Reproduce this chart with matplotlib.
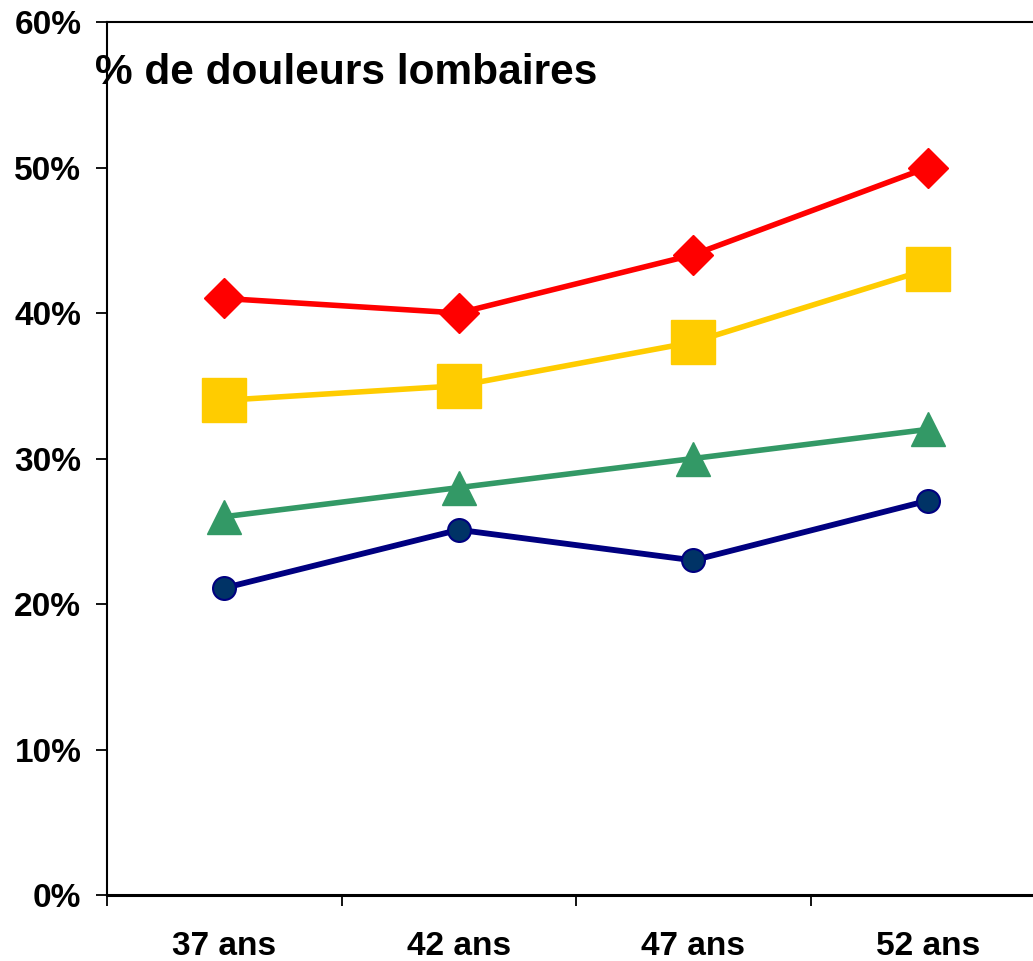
import matplotlib
matplotlib.use("Agg")
import matplotlib.pyplot as plt
from matplotlib.ticker import FixedLocator, FuncFormatter

categories = ["37 ans", "42 ans", "47 ans", "52 ans"]
red_values = [41, 40, 44, 50]
yellow_values = [34, 35, 38, 43]
green_values = [26, 28, 30, 32]
blue_values = [21.1, 25.1, 23.0, 27.1]
y_ticks = [0, 10, 20, 30, 40, 50, 60]
title = "% de douleurs lombaires"

plt.rcParams['font.family'] = ['Liberation Sans', 'DejaVu Sans']

fig = plt.figure(figsize=(10.33, 9.61), dpi=100)
left = 107 / 1033
right = 1045 / 1033
bottom = 1 - 895 / 961
top = 1 - 22 / 961
ax = fig.add_axes([left, bottom, right - left, top - bottom])

xs = [i + 0.5 for i in range(len(categories))]

ax.plot(xs, red_values, color="#FF0000", lw=4.0, marker="D", ms=20.5,
        markerfacecolor="#FF0000", markeredgecolor="#FF0000", zorder=3)
ax.plot(xs, yellow_values, color="#FFCC00", lw=4.0, marker="s", ms=31.5,
        markerfacecolor="#FFCC00", markeredgecolor="#FFCC00", zorder=3)
ax.plot(xs, green_values, color="#339966", lw=4.0, marker="^", ms=24.5,
        markerfacecolor="#339966", markeredgecolor="#339966", zorder=3)
ax.plot(xs, blue_values, color="#000080", lw=4.2, marker="o", ms=16.5,
        markerfacecolor="#003366", markeredgecolor="#000080", markeredgewidth=1.5, zorder=3)

ax.set_xlim(0, len(categories))
ax.set_ylim(0, 60)

ax.xaxis.set_major_locator(FixedLocator(list(range(len(categories) + 1))))
ax.xaxis.set_major_formatter(FuncFormatter(lambda v, p: ""))
ax.xaxis.set_minor_locator(FixedLocator(xs))
ax.set_xticklabels(categories, minor=True)
ax.tick_params(axis="x", which="major", direction="out", length=8, width=1.3)
ax.tick_params(axis="x", which="minor", length=0, pad=26, labelsize=24)
for lab in ax.get_xticklabels(minor=True):
    lab.set_fontweight("bold")

ax.set_yticks(y_ticks)
ax.set_yticklabels([f"{v}%" for v in y_ticks], fontsize=24, fontweight="bold")
ax.tick_params(axis="y", direction="out", length=8, width=1.3, pad=10.5)

for s in ["left", "top", "right"]:
    ax.spines[s].set_linewidth(1.5)
ax.spines["bottom"].set_linewidth(2.2)

fig.text(95 / 1033, 1 - 73 / 961, title, fontsize=30.5, fontweight="bold",
         ha="left", va="center")

fig.savefig("out.png", dpi=100)
